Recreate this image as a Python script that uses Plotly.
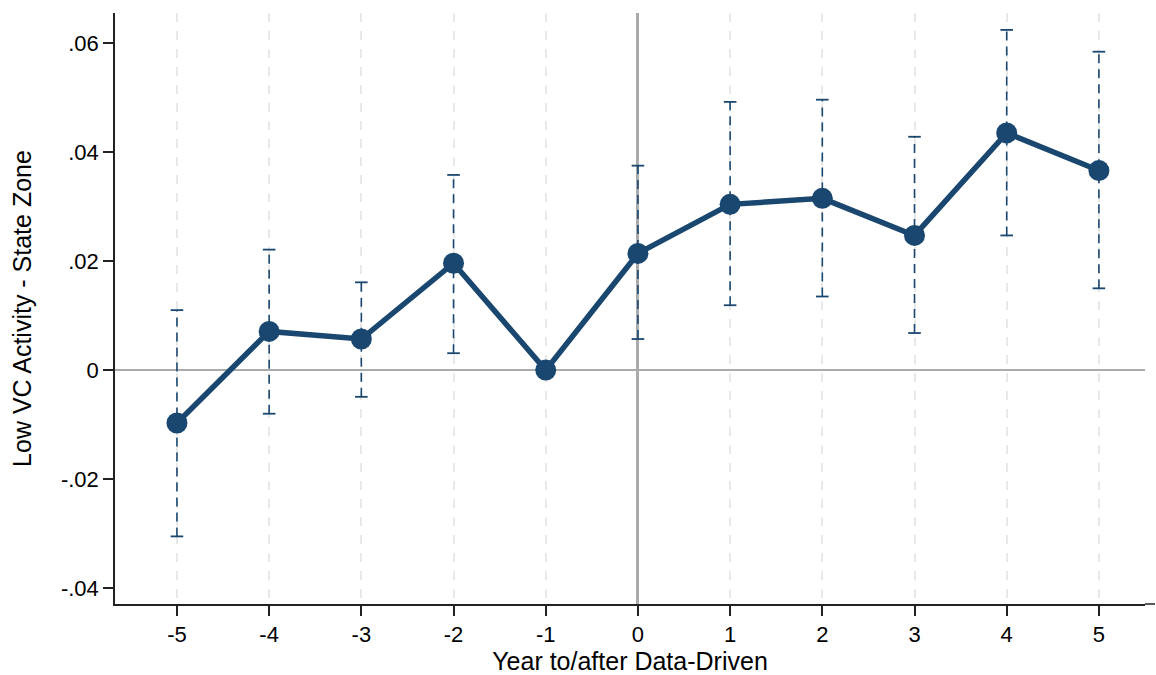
import plotly.graph_objects as go

years = [-5, -4, -3, -2, -1, 0, 1, 2, 3, 4, 5]
coef = [-0.0097, 0.0071, 0.0057, 0.0196, 0.0, 0.0214, 0.0304, 0.0315, 0.0247, 0.0435, 0.0366]
ci_hi = [0.0110, 0.0221, 0.0161, 0.0358, None, 0.0375, 0.0492, 0.0496, 0.0428, 0.0624, 0.0584]
ci_lo = [-0.0305, -0.0080, -0.0049, 0.0031, None, 0.0057, 0.0119, 0.0135, 0.0068, 0.0247, 0.0150]
ytick_vals = [-0.04, -0.02, 0, 0.02, 0.04, 0.06]
ytick_text = ["-.04", "-.02", "0", ".02", ".04", ".06"]

navy = "#1a476f"
fig = go.Figure()

for x, lo, hi in zip(years, ci_lo, ci_hi):
    if lo is None:
        continue
    fig.add_trace(go.Scatter(x=[x, x], y=[lo, hi], mode="lines",
                             line=dict(color=navy, width=1.6, dash="9px,6px"),
                             showlegend=False, hoverinfo="skip"))
cx = [x for x, v in zip(years, ci_hi) if v is not None]
fig.add_trace(go.Scatter(x=cx + cx, y=[v for v in ci_hi if v is not None] + [v for v in ci_lo if v is not None],
                         mode="markers",
                         marker=dict(symbol="line-ew", size=9, line=dict(color=navy, width=1.8)),
                         showlegend=False, hoverinfo="skip"))

fig.add_trace(go.Scatter(x=years, y=coef, mode="lines+markers",
                         line=dict(color=navy, width=5.5),
                         marker=dict(color=navy, size=21),
                         showlegend=False))

font = dict(family="Liberation Sans, Arial, sans-serif", size=21, color="black")
fig.update_layout(
    width=1156, height=675,
    margin=dict(l=115, r=11, t=13, b=71),
    paper_bgcolor="white", plot_bgcolor="white",
    font=font,
    xaxis=dict(range=[-5.672, 5.5], tickvals=years, ticktext=[str(y) for y in years],
               automargin=False, tickfont=dict(size=22),
               showgrid=True, gridcolor="#e8e8e8", gridwidth=2, griddash="dash",
               zeroline=True, zerolinecolor="#ababab", zerolinewidth=3,
               showline=True, linecolor="#222222", linewidth=1.5,
               ticks="outside", ticklen=10, tickwidth=1.5, tickcolor="#222222",
               title=dict(text="Year to/after Data-Driven", standoff=8)),
    yaxis=dict(range=[-0.0429, 0.0655], tickvals=ytick_vals, ticktext=ytick_text,
               automargin=False, tickfont=dict(size=22),
               showgrid=False,
               zeroline=True, zerolinecolor="#ababab", zerolinewidth=2,
               showline=True, linecolor="#222222", linewidth=1.5,
               ticks="outside", ticklen=10, tickwidth=1.5, tickcolor="#222222",
               title=dict(text="Low VC Activity - State Zone", standoff=22)),
)
fig.add_shape(type="line", xref="paper", yref="paper", x0=1, x1=1.0097, y0=0, y1=0,
              line=dict(color="#222222", width=1.5))
fig.write_html("out.html", config={"displayModeBar": False},
               post_script="document.body.style.margin='0';document.body.style.padding='0';")
